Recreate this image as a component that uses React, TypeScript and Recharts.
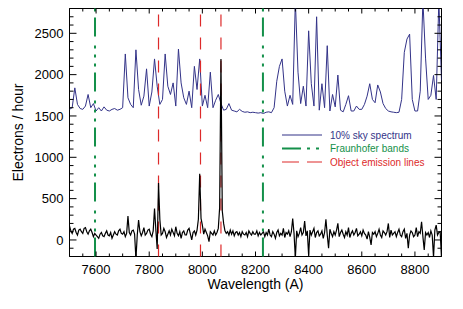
import { LineChart, Line, XAxis, YAxis, ReferenceLine, ReferenceArea } from 'recharts'

// sky spectrum sampled every 10 A, object spectrum every 5 A, both from 7500 A
const WAVE_START = 7500
const SKY_STEP = 10
const OBJ_STEP = 5

const SKY = [
  1580, 1600, 1840, 1640, 1590, 1580, 1620, 1760, 1600, 1650,
  1560, 1600, 1560, 1610, 1570, 1560, 1580, 1590, 1570, 1580,
  1600, 2250, 1720, 1640, 1600, 2300, 1820, 1630, 1740, 2070,
  1620, 1790, 2190, 1860, 1640, 1700, 2250, 1860, 1760, 1900,
  1620, 2310, 1900, 1720, 1640, 1800, 1600, 2100, 1820, 2190,
  1620, 1750, 1600, 2030, 1600, 1690, 1760, 1650, 1570, 1580,
  1650, 1570, 1560, 1550, 1580, 1555, 1545, 1550, 1540, 1545,
  1540, 1535, 1540, 1530, 1545, 1550, 1540, 1600, 1920, 2100,
  2190, 1800, 1620, 1750, 1640, 2900, 2030, 1650, 1860, 1620,
  2530, 1890, 1620, 2700, 1570, 1890, 1600, 2350, 1560, 1760,
  1610, 1995, 1570, 1550, 1640, 1745, 1560, 1560, 1620, 1580,
  1580, 1640, 1740, 1890, 1700, 1660, 1875, 1790, 1650, 1590,
  1560, 1550, 1545, 1540, 1545, 1700, 2270, 2430, 2490, 1700,
  1560, 1560, 1800, 2900, 2200, 1700, 1750, 1990, 1700, 2900,
  1930,
]

const OBJECT = [
  170, 110, 80, 130, 140, 90, 60, 120, 130, 100,
  80, 140, 150, 100, 70, 110, 130, 90, 40, 80,
  60, 40, 20, 70, 90, 50, 40, 80, 110, 60,
  50, 90, 20, 60, 100, 70, 60, 110, 130, 80,
  70, 100, 40, 80, 290, 90, 60, 110, 120, 70,
  -230, 60, 240, 100, 50, 90, 150, 60, 80, 120,
  130, 70, 40, 110, 380, 120, -110, 690, 250, 60,
  80, 140, 100, 30, 70, 110, 60, 130, 90, 50,
  160, 80, 50, 100, 20, 90, 110, 60, 60, 120,
  140, 70, 0, 90, 110, 60, 120, 250, 800, 260,
  180, 70, 130, 90, 50, -20, 100, 80, 60, 110,
  60, 90, 140, 390, 2190, 350, 200, 110, 80, 100,
  60, 120, 70, 110, 50, 90, 100, 60, 90, 40,
  100, 70, 60, 90, 40, 110, 80, 60, 100, 70,
  70, 110, 50, 90, 60, 80, 100, 40, 90, 60,
  130, 60, 40, 100, 70, 20, 90, 120, 50, 80,
  60, 140, 30, 90, 70, 110, 40, 100, 260, 80,
  -220, 110, 40, 80, 150, 60, 90, 230, 50, 110,
  -190, 120, 60, 100, 140, 30, 90, 110, 50, 70,
  110, 20, 90, 250, 60, -100, 130, 80, 40, 100,
  60, 120, 200, 40, 90, 120, 70, 30, 100, 60,
  150, 30, 80, 110, 60, 90, 140, 50, 70, 100,
  50, 120, 80, 60, 10, 100, 30, -60, 90, 70,
  100, 40, 80, 130, 60, 30, 110, 90, 60, 100,
  200, 30, 120, 60, 80, 100, 40, 90, 130, 60,
  40, 100, 130, 20, 80, -100, 60, 110, 90, 40,
  60, 150, 40, 100, 80, 220, 40, -120, 90, 60,
  90, 30, 110, 60, -210, 120, 180, 60, 90, 100,
  -220,
]

const FRAUNHOFER = [7596, 8228]
const EMISSION = [7835, 7993, 8070]

const X_DOMAIN = [7500, 8900]
const Y_DOMAIN = [-200, 2800]
const X_MAJOR = [7600, 7800, 8000, 8200, 8400, 8600, 8800]
const Y_MAJOR = [0, 500, 1000, 1500, 2000, 2500]
const X_TICKS = Array.from({ length: 29 }, (_, i) => 7500 + i * 50)
const Y_TICKS = Array.from({ length: 31 }, (_, i) => -200 + i * 100)

const skyData = SKY.map((v, i) => ({ wave: WAVE_START + i * SKY_STEP, value: v }))
const objData = OBJECT.map((v, i) => ({ wave: WAVE_START + i * OBJ_STEP, value: v }))

// plot box in page pixels
const TOP = 8.5
const BOTTOM = 256.5
const LEFT = 69.5
const RIGHT = 441.5

const FONT = '"Liberation Sans", Arial, Helvetica, sans-serif'
const NAVY = '#333388'
const GREEN = '#14904a'
const RED = '#dd2a2a'
const GREEN_DASH = '19 6 3 6 3 6 3 9'

function XTick(props: any) {
  const { x, payload } = props
  const major = X_MAJOR.includes(payload.value)
  const len = major ? 5 : 3
  return (
    <g>
      <line x1={x} x2={x} y1={BOTTOM} y2={BOTTOM - len} stroke="#000" />
      <line x1={x} x2={x} y1={TOP} y2={TOP + len} stroke="#000" />
      {major && (
        <text x={x} y={BOTTOM + 17.5} textAnchor="middle" fontSize={13} fontFamily={FONT} fill="#000">
          {payload.value}
        </text>
      )}
    </g>
  )
}

function YTick(props: any) {
  const { y, payload } = props
  const major = Y_MAJOR.includes(payload.value)
  const len = major ? 7 : 4
  return (
    <g>
      <line x1={LEFT} x2={LEFT + len} y1={y} y2={y} stroke="#000" />
      <line x1={RIGHT} x2={RIGHT - len} y1={y} y2={y} stroke="#000" />
      {major && (
        <text x={63.5} y={y + 4.7} textAnchor="end" fontSize={13} fontFamily={FONT} fill="#000">
          {payload.value}
        </text>
      )}
    </g>
  )
}

function Key() {
  return (
    <svg width={170} height={45} style={{ position: 'absolute', left: 280, top: 128 }}>
      <line x1={2} x2={42} y1={7} y2={7} stroke={NAVY} strokeWidth={1.2} />
      <text x={50} y={10.5} fontSize={10} fontFamily={FONT} fill={NAVY}>10% sky spectrum</text>
      <line x1={2} x2={42} y1={20.5} y2={20.5} stroke={GREEN} strokeWidth={2} strokeDasharray={GREEN_DASH} />
      <text x={50} y={24} fontSize={10} fontFamily={FONT} fill={GREEN}>Fraunhofer bands</text>
      <line x1={2} x2={42} y1={34} y2={34} stroke={RED} strokeWidth={1.2} strokeDasharray="17 8" />
      <text x={50} y={37.5} fontSize={10} fontFamily={FONT} fill={RED}>Object emission lines</text>
    </svg>
  )
}

export default function App() {
  return (
    <div style={{ position: 'absolute', left: 0, top: 0, width: 463, height: 309, background: '#fff', fontFamily: FONT }}>
      <LineChart width={463} height={309} margin={{ top: 8.5, right: 21.5, bottom: 12.5, left: 14.5 }}>
        <XAxis
          dataKey="wave"
          type="number"
          domain={X_DOMAIN}
          allowDataOverflow
          ticks={X_TICKS}
          interval={0}
          tick={<XTick />}
          tickLine={false}
          axisLine={false}
          height={40}
          label={{ value: 'Wavelength (A)', position: 'insideBottom', offset: 7.5, style: { fontSize: 14, fill: '#000', fontFamily: FONT } }}
        />
        <YAxis
          type="number"
          domain={Y_DOMAIN}
          allowDataOverflow
          ticks={Y_TICKS}
          interval={0}
          tick={<YTick />}
          tickLine={false}
          axisLine={false}
          width={55}
          label={{ value: 'Electrons / hour', angle: -90, position: 'insideLeft', offset: 4, style: { textAnchor: 'middle', fontSize: 14, fill: '#000', fontFamily: FONT } }}
        />
        <Line data={skyData} dataKey="value" name="sky" stroke={NAVY} strokeWidth={1} dot={false} isAnimationActive={false} />
        {EMISSION.map(w => (
          <ReferenceLine key={w} x={w} stroke={RED} strokeWidth={1.2} strokeDasharray="12 11" />
        ))}
        <Line data={objData} dataKey="value" name="object" stroke="#000" strokeWidth={1.2} dot={false} isAnimationActive={false} />
        {FRAUNHOFER.map(w => (
          <ReferenceLine key={w} x={w} stroke={GREEN} strokeWidth={2} strokeDasharray={GREEN_DASH} />
        ))}
        <ReferenceArea x1={X_DOMAIN[0]} x2={X_DOMAIN[1]} y1={Y_DOMAIN[0]} y2={Y_DOMAIN[1]} fill="none" stroke="#000" strokeWidth={1} />
      </LineChart>
      <Key />
    </div>
  )
}
